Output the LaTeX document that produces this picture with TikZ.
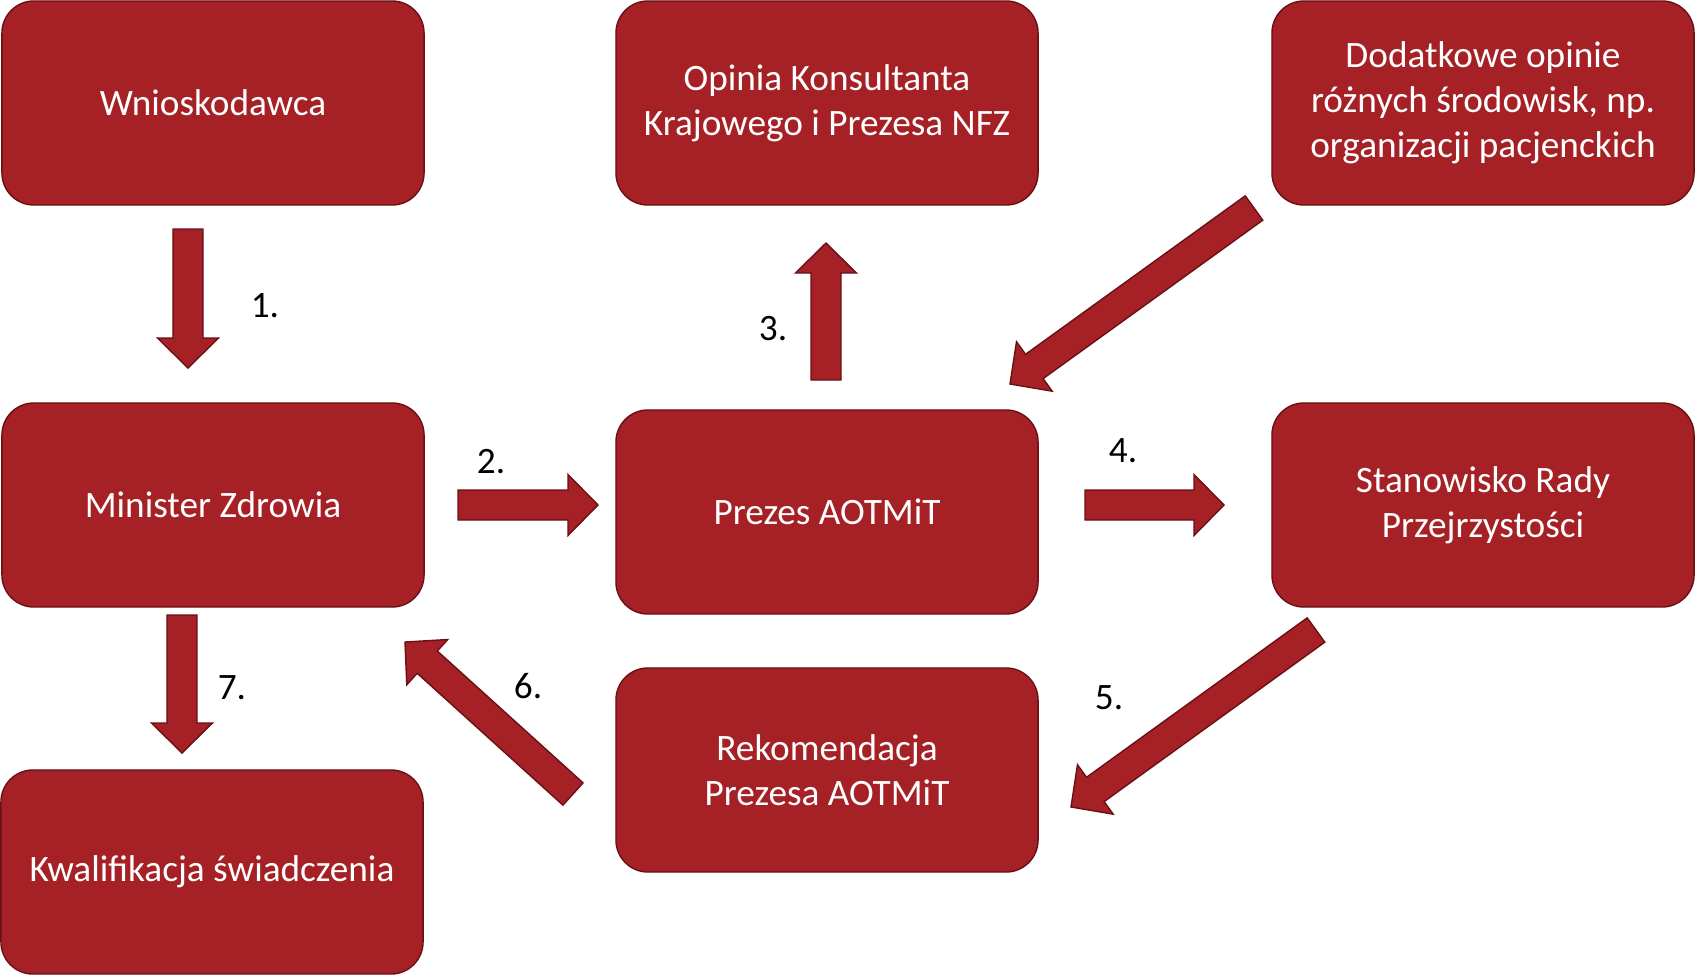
\documentclass[tikz,border=0pt]{standalone}
\usepackage{fontspec}
\setmainfont{Carlito}
\usetikzlibrary{calc}
\definecolor{boxred}{HTML}{A52126}
\definecolor{boxedge}{HTML}{6A1014}

\begin{document}
\begin{tikzpicture}[x=0.025cm,y=0.025cm,every node/.style={font=\fontsize{26.5}{32}\selectfont},
box/.style={draw=boxedge,fill=boxred,line width=1pt,rounded corners=0.8cm,minimum width=10.55cm,minimum height=5.1cm,text=white,align=center},
num/.style={text=black,inner sep=0pt},
blk/.style={draw=boxedge,fill=boxred,line width=1pt,to path={($(\tikztostart)!0.375cm!90:(\tikztotarget)$)--($(\tikztotarget)!0.75cm!(\tikztostart)!0.375cm!90:(\tikztotarget)$)--($(\tikztotarget)!0.75cm!(\tikztostart)!0.7625cm!90:(\tikztotarget)$)--(\tikztotarget)--($(\tikztotarget)!0.75cm!(\tikztostart)!0.7625cm!-90:(\tikztotarget)$)--($(\tikztotarget)!0.75cm!(\tikztostart)!0.375cm!-90:(\tikztotarget)$)--($(\tikztostart)!0.375cm!-90:(\tikztotarget)$)--cycle}}]
\useasboundingbox (0,0) rectangle (1695,-976);
% boxes
\node[box] (wnio) at (213,-103) {Wnioskodawca};
\node[box] (opinia) at (827,-103) {Opinia Konsultanta\\Krajowego i Prezesa NFZ};
\node[box] (dodatkowe) at (1483,-103) {Dodatkowe opinie\\różnych środowisk, np.\\organizacji pacjenckich};
\node[box] (minister) at (213,-505) {Minister Zdrowia};
\node[box] (prezes) at (827,-512) {Prezes AOTMiT};
\node[box] (stanowisko) at (1483,-505) {Stanowisko Rady\\Przejrzystości};
\node[box] (rekomendacja) at (827,-770) {Rekomendacja\\Prezesa AOTMiT};
\node[box] (kwalifikacja) at (212,-872) {Kwalifikacja świadczenia};
% arrow ends
\coordinate (a1s) at (188,-229);\coordinate (a1e) at (188,-368);
\coordinate (a2s) at (458,-505);\coordinate (a2e) at (598,-505);
\coordinate (a3s) at (826,-380);\coordinate (a3e) at (826,-243);
\coordinate (a4s) at (1085,-505);\coordinate (a4e) at (1224,-505);
\coordinate (ads) at (1254,-208);\coordinate (ade) at (1010,-384);
\coordinate (a5s) at (1316,-630);\coordinate (a5e) at (1071,-807);
\coordinate (a6s) at (573,-794);\coordinate (a6e) at (405,-642);
\coordinate (a7s) at (182,-615);\coordinate (a7e) at (182,-753);
\draw[blk] (a1s) to (a1e);\draw[blk] (a2s) to (a2e);\draw[blk] (a3s) to (a3e);\draw[blk] (a4s) to (a4e);
\draw[blk] (ads) to (ade);\draw[blk] (a5s) to (a5e);\draw[blk] (a6s) to (a6e);\draw[blk] (a7s) to (a7e);
% step numbers
\node[num] (n1) at (265,-306) {1.};\node[num] (n2) at (491,-462) {2.};\node[num] (n3) at (773,-329) {3.};
\node[num] (n4) at (1123,-451) {4.};\node[num] (n5) at (1109,-698) {5.};\node[num] (n6) at (528,-686) {6.};
\node[num] (n7) at (232,-688) {7.};
\end{tikzpicture}
\end{document}
